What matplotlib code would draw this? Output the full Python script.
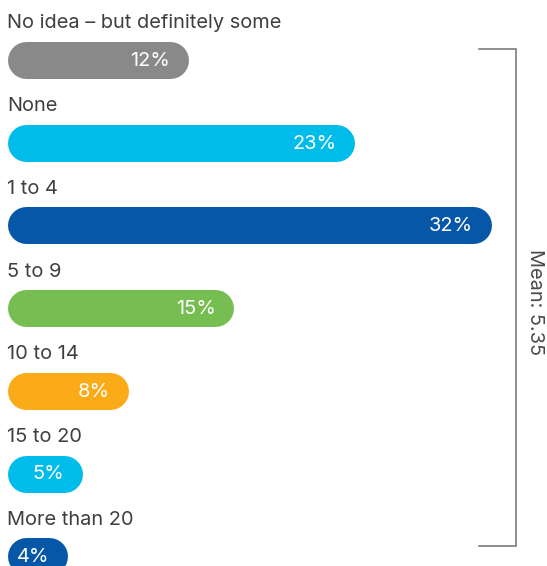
import matplotlib
matplotlib.use("Agg")
import matplotlib.pyplot as plt

categories = ["No idea – but definitely some", "None", "1 to 4", "5 to 9",
              "10 to 14", "15 to 20", "More than 20"]
values = [12, 23, 32, 15, 8, 5, 4]
colors = ["#898989", "#00bceb", "#0657a8", "#76be51", "#fbab18", "#00bceb", "#0657a8"]
mean_label = "Mean: 5.35"

W, H = 547, 566
DPI = 100
fig = plt.figure(figsize=(W / DPI, H / DPI), dpi=DPI)
ax = fig.add_axes([0, 0, 1, 1])
ax.set_axis_off()

# scales: pixels per percent and per row
x0_px, px_per_pct = 7.0, 15.13
y0_px, px_per_row = 60.0, 82.7
ax.set_xlim(-x0_px / px_per_pct, (W - x0_px) / px_per_pct)
ax.set_ylim((H - y0_px) / px_per_row, -y0_px / px_per_row)

bar_h_px = 37.0
r = bar_h_px / 2 / px_per_pct
lw_pt = bar_h_px * 72 / DPI

font = ["Inter", "DejaVu Sans"]
txt_color = "#3f3f3f"
fs = 14.4

for i, (cat, v, c) in enumerate(zip(categories, values, colors)):
    ax.plot([r, v - r], [i, i], color=c, lw=lw_pt, solid_capstyle="round")
    ax.text(v - 18.5 / px_per_pct, i + 0.01, f"{v}%", color="white", ha="right", va="center",
            fontsize=fs, family=font)
    ax.text(0, i - 31.5 / px_per_row, cat, color=txt_color, ha="left", va="baseline",
            fontsize=fs, family=font)

# bracket
bx = (516 - x0_px) / px_per_pct
bx_in = (479 - x0_px) / px_per_pct
ytop = (49 - y0_px) / px_per_row
ybot = (546 - y0_px) / px_per_row
ax.plot([bx_in, bx, bx, bx_in], [ytop, ytop, ybot, ybot], color="#707070", lw=1.1,
        solid_joinstyle="miter")
ax.text((535 - x0_px) / px_per_pct, (ytop + ybot) / 2 + 0.05, mean_label, rotation=270,
        ha="center", va="center", color="#4a4a4a", fontsize=fs, family=font)

fig.savefig("out.png", dpi=DPI)
